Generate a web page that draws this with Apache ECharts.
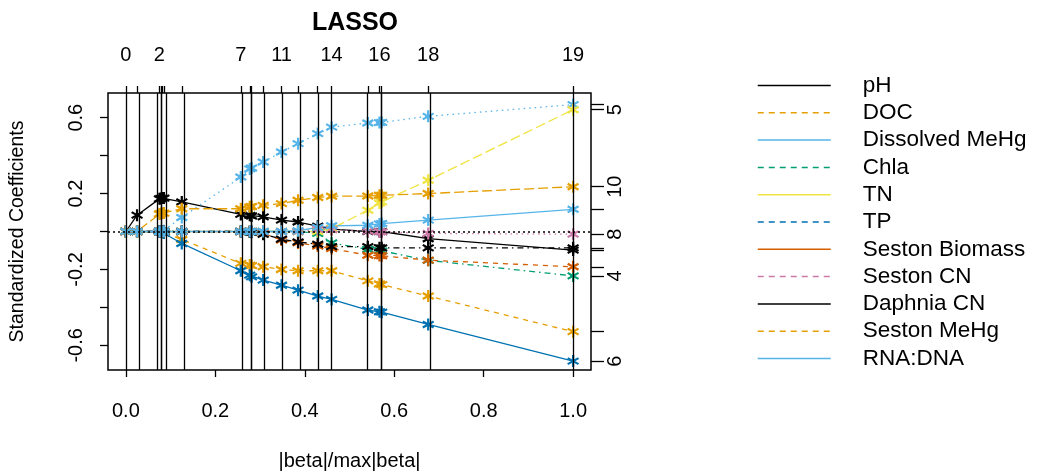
<!DOCTYPE html>
<html>
<head>
<meta charset="utf-8">
<script src="https://cdn.jsdelivr.net/npm/echarts@6/dist/echarts.min.js"></script>
<style>
  html, body { margin: 0; padding: 0; background: #fff; }
  #chart { width: 1039px; height: 474px; }
</style>
</head>
<body>
<div id="chart"></div>
<script>
// |beta|/max|beta| at each LARS step (0..19)
const steps = [0, 0.025, 0.075, 0.078, 0.081, 0.085, 0.125, 0.257, 0.277, 0.281,
               0.307, 0.348, 0.385, 0.429, 0.46, 0.541, 0.567, 0.572, 0.676, 1.0];
const topLabelSteps = [0, 2, 7, 11, 14, 16, 18, 19];

const varNames = ['pH', 'DOC', 'Dissolved MeHg', 'Chla', 'TN', 'TP',
                  'Seston Biomass', 'Seston CN', 'Daphnia CN', 'Seston MeHg', 'RNA:DNA'];

// standardized coefficients along the path
const pH = [0, 0.086, 0.172, 0.174, 0.176, 0.176, 0.156, 0.09, 0.085, 0.082,
            0.077, 0.06, 0.05, 0.028, 0.012, 0, 0, 0, -0.038, -0.098];
const doc = [0, 0, 0, 0, -0.002, -0.006, -0.042, -0.168, -0.177, -0.18,
             -0.186, -0.2, -0.207, -0.207, -0.207, -0.26, -0.277, -0.28, -0.34, -0.528];
const dissolvedMeHg = [0, 0, 0, 0, 0, 0.004, 0.074, 0.287, 0.33, 0.335,
                       0.366, 0.419, 0.463, 0.516, 0.55, 0.572, 0.574, 0.575, 0.607, 0.669];
const chla = [0, 0, 0, 0, 0, 0, 0, 0, 0, 0,
              0, 0, 0, -0.01, -0.06, -0.095, -0.1, -0.102, -0.152, -0.234];
const tn = [0, 0, 0, 0, 0, 0, 0, 0, 0, 0,
            0, 0, 0, 0, 0.015, 0.112, 0.15, 0.156, 0.27, 0.642];
const tp = [0, 0, 0, -0.002, -0.004, -0.008, -0.063, -0.207, -0.23, -0.239,
            -0.256, -0.283, -0.309, -0.34, -0.358, -0.414, -0.423, -0.425, -0.49, -0.683];
const sestonBiomass = [0, 0, 0, 0, 0, 0, 0, 0, 0, 0,
                       -0.01, -0.045, -0.06, -0.077, -0.09, -0.125, -0.127, -0.128, -0.151, -0.186];
const sestonCN = [0, 0, 0, 0, 0, 0, 0, 0, 0, 0,
                  0, 0, 0, 0.012, 0.01, 0.002, 0, -0.002, -0.01, -0.014];
const daphniaCN = [0, 0, 0, 0, 0, 0, 0, 0, -0.002, -0.004,
                   -0.015, -0.04, -0.055, -0.067, -0.08, -0.08, -0.085, -0.086, -0.086, -0.086];
const sestonMeHg = [0, 0, 0.092, 0.095, 0.096, 0.097, 0.12, 0.12, 0.13, 0.132,
                    0.138, 0.147, 0.165, 0.179, 0.186, 0.187, 0.191, 0.191, 0.2, 0.236];
const rnaDna = [0, 0, 0, 0, 0, 0, 0, 0, 0, 0,
                0, 0, 0.004, 0.022, 0.03, 0.033, 0.04, 0.042, 0.06, 0.117];

// variable numbers printed on the right axis
const rightLabelVars = [5, 10, 8, 4, 6];

const coefs = [pH, doc, dissolvedMeHg, chla, tn, tp, sestonBiomass, sestonCN, daphniaCN, sestonMeHg, rnaDna];
const colors = ['#000000', '#E69F00', '#56B4E9', '#009E73', '#F0E442', '#0072B2',
                '#D55E00', '#CC79A7', '#000000', '#E69F00', '#56B4E9'];
// R lty 1:5 recycled
const ltys = {
  solid: 'solid', dashed: [5, 5], dotted: [1.5, 4], dotdash: [1.5, 4, 6, 4], longdash: [10, 4]
};
const plotLty = ['solid', 'dashed', 'dotted', 'dotdash', 'longdash'];

// asterisk like R's pch = "*"
const star = 'path://M4.1,0L5.9,0L5.9,10L4.1,10Z' +
  'M0.22,3.28L1.12,1.72L9.78,6.72L8.88,8.28Z' +
  'M1.12,8.28L0.22,6.72L8.88,1.72L9.78,3.28Z';

const font = 'Liberation Sans';
const near = (a, b) => Math.abs(a - b) < 1e-9;

const chart = echarts.init(document.getElementById('chart'));

const series = coefs.map((c, k) => ({
  name: varNames[k],
  type: 'line',
  data: steps.map((s, i) => [s, c[i]]),
  symbol: star,
  symbolSize: 12,
  showAllSymbol: true,
  color: colors[k],
  lineStyle: { color: colors[k], width: 1.3, type: ltys[plotLty[k % 5]] },
  itemStyle: { color: colors[k] },
  emphasis: { disabled: true },
  animation: false
}));

series[0].markLine = {
  silent: true,
  symbol: ['none', 'none'],
  label: { show: false },
  animation: false,
  data: steps.map(s => ({ xAxis: s, lineStyle: { color: '#000', width: 1.3, type: 'solid' } }))
    .concat([{ yAxis: 0, lineStyle: { color: '#000', width: 1.5, type: [2, 3] } }])
};

const finals = coefs.map(c => c[c.length - 1]);
const rightLabelVals = rightLabelVars.map(v => finals[v - 1]);

const option = {
  animation: false,
  textStyle: { fontFamily: font, color: '#000' },
  title: {
    text: 'LASSO',
    left: 350,
    top: 6,
    textAlign: 'center',
    textStyle: { fontFamily: font, fontWeight: 'bold', fontSize: 25, color: '#000' }
  },
  grid: {
    left: 108, right: 448, top: 93, bottom: 104,
    outerBoundsMode: 'none',
    show: true, borderColor: '#000', borderWidth: 1.5
  },
  legend: {
    orient: 'vertical',
    left: 752,
    top: 69,
    itemWidth: 73,
    itemHeight: 14,
    itemGap: 4.3,
    selectedMode: false,
    textStyle: { fontFamily: font, fontSize: 22.5, color: '#000', lineHeight: 22, padding: [0, 0, 0, 27] },
    data: varNames.map((n, k) => ({
      name: n,
      itemStyle: { opacity: 0 },
      lineStyle: { color: colors[k], width: 1.5, type: k % 2 === 0 ? 'solid' : [6, 5] }
    }))
  },
  xAxis: [{
    type: 'value',
    min: -0.04, max: 1.04,
    name: '|beta|/max|beta|',
    nameLocation: 'middle',
    nameGap: 81,
    nameTextStyle: { fontFamily: font, fontSize: 20, color: '#000' },
    splitLine: { show: false },
    axisLine: { show: false, onZero: false },
    axisTick: { show: true, length: 7, customValues: [0, 0.2, 0.4, 0.6, 0.8, 1.0], lineStyle: { color: '#000', width: 1.3 } },
    axisLabel: { customValues: [0, 0.2, 0.4, 0.6, 0.8, 1.0], formatter: v => v.toFixed(1), fontSize: 20, color: '#000', margin: 31 }
  }, {
    type: 'value',
    position: 'top',
    min: -0.04, max: 1.04,
    splitLine: { show: false },
    axisLine: { show: false, onZero: false },
    axisTick: { show: true, length: 7, customValues: steps, lineStyle: { color: '#000', width: 1.3 } },
    axisLabel: {
      customValues: topLabelSteps.map(i => steps[i]),
      formatter: v => String(steps.findIndex(s => near(s, v))),
      fontSize: 20, color: '#000', margin: 28
    }
  }],
  yAxis: [{
    type: 'value',
    min: -0.73, max: 0.73,
    name: 'Standardized Coefficients',
    nameLocation: 'middle',
    nameGap: 80,
    nameTextStyle: { fontFamily: font, fontSize: 19.5, color: '#000' },
    splitLine: { show: false },
    axisLine: { show: false, onZero: false },
    axisTick: { show: true, length: 8, customValues: [-0.6, -0.4, -0.2, 0, 0.2, 0.4, 0.6], lineStyle: { color: '#000', width: 1.3 } },
    axisLabel: { customValues: [-0.6, -0.2, 0.2, 0.6], rotate: 90, fontSize: 20, color: '#000', margin: 22, formatter: v => String(v) }
  }, {
    type: 'value',
    position: 'right',
    min: -0.73, max: 0.73,
    splitLine: { show: false },
    axisLine: { show: false, onZero: false },
    axisTick: { show: true, length: 13, customValues: finals, lineStyle: { color: '#000', width: 1.3 } },
    axisLabel: {
      customValues: rightLabelVals,
      formatter: v => String(rightLabelVars[rightLabelVals.findIndex(r => near(r, v))]),
      rotate: 90, fontSize: 20, color: '#000', margin: 14
    }
  }],
  series: series
};

chart.setOption(option);
</script>
</body>
</html>
